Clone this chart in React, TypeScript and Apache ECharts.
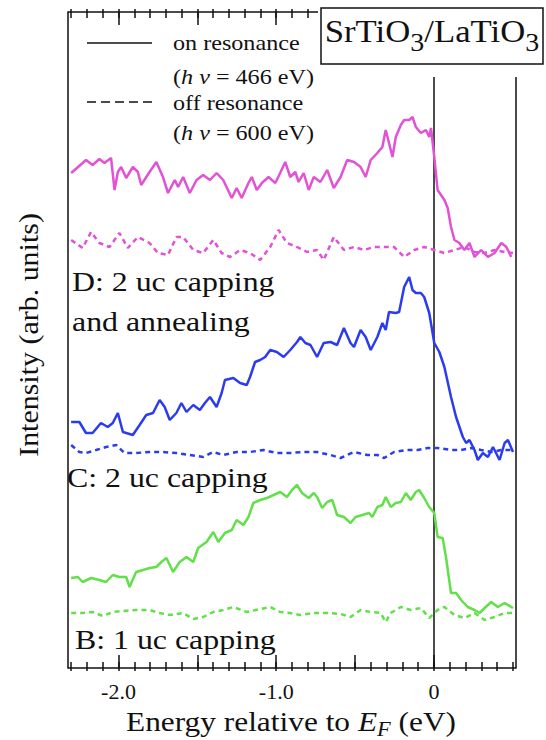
import React, { useEffect, useRef } from "react";
import * as echarts from "echarts";

// Energy window (eV) and intensity scale (arb. units)
const X_MIN = -2.32;
const X_MAX = 0.52;
const Y_MAX = 6.56;

const minorTicks = [
  -2.3, -2.2, -2.1, -2.0, -1.9, -1.8, -1.7, -1.6, -1.5, -1.4, -1.3, -1.2, -1.1, -1.0,
  -0.9, -0.8, -0.7, -0.6, -0.5, -0.4, -0.3, -0.2, -0.1, 0, 0.1, 0.2, 0.3, 0.4, 0.5,
];
const majorTicks = [-2.0, -1.5, -1.0, -0.5, 0];
const labeledTicks = [-2.0, -1.0, 0];

// D: 2 uc capping and annealing
const dOnResonance: [number, number][] = [
  [-2.30, 4.95], [-2.227, 5.05], [-2.206, 5.08], [-2.164, 5.03], [-2.121, 5.09], [-2.089, 5.05],
  [-2.047, 5.10], [-2.025, 4.78], [-2.004, 4.96], [-1.983, 5.01], [-1.951, 4.90], [-1.909, 5.01],
  [-1.877, 4.96], [-1.856, 4.83], [-1.803, 4.96], [-1.760, 5.06], [-1.718, 4.91], [-1.686, 4.75],
  [-1.643, 4.88], [-1.622, 4.81], [-1.590, 4.91], [-1.548, 4.75], [-1.505, 4.88], [-1.463, 4.93],
  [-1.420, 4.88], [-1.378, 4.95], [-1.336, 4.88], [-1.282, 4.70], [-1.251, 4.80], [-1.219, 4.70],
  [-1.176, 4.85], [-1.155, 4.91], [-1.123, 4.78], [-1.091, 4.85], [-1.049, 4.91], [-1.006, 4.85],
  [-0.975, 4.95], [-0.943, 5.06], [-0.911, 4.91], [-0.879, 4.96], [-0.858, 4.86], [-0.826, 4.95],
  [-0.794, 4.78], [-0.762, 4.91], [-0.720, 4.86], [-0.677, 4.98], [-0.635, 4.80], [-0.592, 4.91],
  [-0.550, 5.08], [-0.507, 5.06], [-0.465, 5.01], [-0.433, 4.91], [-0.401, 5.08], [-0.359, 5.15],
  [-0.327, 5.21], [-0.306, 5.38], [-0.285, 5.25], [-0.263, 5.11], [-0.242, 5.31], [-0.210, 5.43],
  [-0.189, 5.48], [-0.157, 5.48], [-0.136, 5.51], [-0.115, 5.41], [-0.083, 5.35], [-0.051, 5.38],
  [-0.030, 5.31], [-0.019, 5.40], [0.002, 5.11], [0.023, 4.78], [0.066, 4.68], [0.087, 4.60],
  [0.108, 4.41], [0.130, 4.28], [0.161, 4.25], [0.193, 4.18], [0.225, 4.25], [0.257, 4.11],
  [0.299, 4.18], [0.342, 4.11], [0.384, 4.15], [0.427, 4.25], [0.459, 4.21], [0.490, 4.11],
];
const dOffResonance: [number, number][] = [
  [-2.30, 4.28], [-2.227, 4.20], [-2.174, 4.36], [-2.121, 4.25], [-2.057, 4.21], [-1.994, 4.35],
  [-1.941, 4.20], [-1.877, 4.31], [-1.803, 4.25], [-1.750, 4.15], [-1.686, 4.13], [-1.633, 4.31],
  [-1.590, 4.31], [-1.526, 4.18], [-1.463, 4.15], [-1.399, 4.28], [-1.346, 4.15], [-1.293, 4.11],
  [-1.229, 4.18], [-1.166, 4.15], [-1.102, 4.08], [-1.038, 4.21], [-0.985, 4.38], [-0.932, 4.25],
  [-0.868, 4.21], [-0.805, 4.16], [-0.741, 4.18], [-0.699, 4.08], [-0.635, 4.31], [-0.571, 4.18],
  [-0.507, 4.21], [-0.444, 4.18], [-0.380, 4.21], [-0.316, 4.21], [-0.253, 4.21], [-0.189, 4.11],
  [-0.125, 4.18], [-0.062, 4.21], [0.002, 4.18], [0.066, 4.15], [0.130, 4.18], [0.193, 4.21],
  [0.257, 4.16], [0.321, 4.15], [0.384, 4.18], [0.448, 4.16], [0.501, 4.15],
];

// C: 2 uc capping
const cOnResonance: [number, number][] = [
  [-2.30, 2.46], [-2.248, 2.46], [-2.206, 2.35], [-2.164, 2.35], [-2.111, 2.45], [-2.068, 2.41],
  [-2.036, 2.45], [-2.004, 2.55], [-1.972, 2.36], [-1.909, 2.33], [-1.866, 2.43], [-1.824, 2.53],
  [-1.781, 2.55], [-1.739, 2.68], [-1.707, 2.61], [-1.675, 2.48], [-1.633, 2.55], [-1.601, 2.65],
  [-1.569, 2.56], [-1.526, 2.63], [-1.484, 2.58], [-1.452, 2.65], [-1.420, 2.71], [-1.378, 2.61],
  [-1.346, 2.75], [-1.325, 2.88], [-1.272, 2.90], [-1.229, 2.85], [-1.187, 2.83], [-1.166, 2.91],
  [-1.134, 3.06], [-1.102, 3.08], [-1.070, 3.11], [-1.038, 3.18], [-0.996, 3.16], [-0.953, 3.11],
  [-0.911, 3.18], [-0.868, 3.26], [-0.847, 3.31], [-0.815, 3.25], [-0.783, 3.23], [-0.741, 3.11],
  [-0.699, 3.25], [-0.656, 3.26], [-0.614, 3.23], [-0.571, 3.40], [-0.529, 3.25], [-0.507, 3.21],
  [-0.465, 3.38], [-0.433, 3.31], [-0.401, 3.18], [-0.359, 3.31], [-0.327, 3.45], [-0.306, 3.38],
  [-0.285, 3.56], [-0.242, 3.55], [-0.221, 3.56], [-0.189, 3.81], [-0.157, 3.91], [-0.136, 3.78],
  [-0.115, 3.75], [-0.083, 3.75], [-0.062, 3.71], [-0.030, 3.55], [0.002, 3.25], [0.034, 3.16],
  [0.066, 3.01], [0.108, 2.71], [0.140, 2.51], [0.183, 2.31], [0.204, 2.25], [0.225, 2.28],
  [0.257, 2.18], [0.278, 2.08], [0.310, 2.15], [0.342, 2.11], [0.374, 2.21], [0.416, 2.08],
  [0.448, 2.25], [0.469, 2.28], [0.501, 2.16],
];
const cOffResonance: [number, number][] = [
  [-2.30, 2.23], [-2.248, 2.16], [-2.206, 2.15], [-2.142, 2.18], [-2.079, 2.21], [-2.015, 2.23],
  [-1.962, 2.15], [-1.888, 2.15], [-1.803, 2.16], [-1.718, 2.16], [-1.633, 2.15], [-1.548, 2.13],
  [-1.463, 2.11], [-1.399, 2.16], [-1.336, 2.13], [-1.251, 2.16], [-1.166, 2.16], [-1.081, 2.18],
  [-0.996, 2.15], [-0.911, 2.15], [-0.826, 2.16], [-0.741, 2.16], [-0.656, 2.13], [-0.592, 2.10],
  [-0.507, 2.16], [-0.422, 2.13], [-0.359, 2.13], [-0.316, 2.10], [-0.253, 2.16], [-0.168, 2.18],
  [-0.104, 2.18], [-0.041, 2.20], [0.023, 2.20], [0.108, 2.18], [0.172, 2.18], [0.236, 2.20],
  [0.299, 2.18], [0.363, 2.16], [0.427, 2.18], [0.501, 2.18],
];

// B: 1 uc capping
const bOnResonance: [number, number][] = [
  [-2.30, 0.90], [-2.258, 0.91], [-2.227, 0.86], [-2.174, 0.90], [-2.121, 0.88], [-2.079, 0.86],
  [-2.036, 0.93], [-1.994, 0.91], [-1.951, 0.91], [-1.930, 0.81], [-1.888, 0.96], [-1.845, 0.98],
  [-1.803, 1.00], [-1.760, 1.01], [-1.728, 1.06], [-1.696, 1.10], [-1.654, 0.96], [-1.612, 1.06],
  [-1.569, 1.11], [-1.526, 1.06], [-1.495, 1.20], [-1.442, 1.26], [-1.399, 1.36], [-1.367, 1.26],
  [-1.325, 1.35], [-1.282, 1.38], [-1.251, 1.48], [-1.208, 1.43], [-1.176, 1.51], [-1.145, 1.65],
  [-1.102, 1.68], [-1.059, 1.70], [-1.017, 1.73], [-0.975, 1.76], [-0.932, 1.71], [-0.900, 1.78],
  [-0.868, 1.83], [-0.837, 1.75], [-0.794, 1.70], [-0.762, 1.75], [-0.741, 1.71], [-0.709, 1.60],
  [-0.677, 1.66], [-0.645, 1.68], [-0.614, 1.53], [-0.571, 1.51], [-0.529, 1.45], [-0.497, 1.51],
  [-0.454, 1.53], [-0.412, 1.55], [-0.391, 1.51], [-0.359, 1.61], [-0.327, 1.63], [-0.306, 1.71],
  [-0.274, 1.61], [-0.242, 1.65], [-0.210, 1.66], [-0.178, 1.75], [-0.147, 1.68], [-0.115, 1.76],
  [-0.094, 1.78], [-0.062, 1.70], [-0.030, 1.61], [0.002, 1.55], [0.023, 1.31], [0.055, 1.30],
  [0.076, 1.11], [0.108, 0.75], [0.140, 0.75], [0.172, 0.68], [0.214, 0.61], [0.257, 0.58],
  [0.289, 0.55], [0.321, 0.60], [0.363, 0.66], [0.405, 0.61], [0.448, 0.65], [0.501, 0.60],
];
const bOffResonance: [number, number][] = [
  [-2.30, 0.55], [-2.227, 0.55], [-2.164, 0.56], [-2.100, 0.52], [-2.036, 0.56], [-1.972, 0.57],
  [-1.888, 0.58], [-1.803, 0.58], [-1.739, 0.55], [-1.675, 0.53], [-1.590, 0.55], [-1.526, 0.49],
  [-1.463, 0.51], [-1.399, 0.56], [-1.336, 0.58], [-1.272, 0.61], [-1.187, 0.56], [-1.102, 0.59],
  [-1.038, 0.61], [-0.975, 0.56], [-0.911, 0.55], [-0.847, 0.53], [-0.762, 0.55], [-0.677, 0.55],
  [-0.592, 0.54], [-0.529, 0.51], [-0.465, 0.58], [-0.401, 0.56], [-0.338, 0.55], [-0.306, 0.46],
  [-0.274, 0.55], [-0.210, 0.61], [-0.147, 0.58], [-0.083, 0.60], [-0.030, 0.50], [0.023, 0.58],
  [0.066, 0.61], [0.130, 0.53], [0.193, 0.50], [0.257, 0.55], [0.321, 0.48], [0.384, 0.51],
  [0.448, 0.55], [0.501, 0.55],
];

const D_COLOR = "#e252d4";
const C_COLOR = "#2b3cf0";
const B_COLOR = "#62e04a";

const FONT = "Liberation Serif";
const INK = "#111";

function tickAxis(
  position: "top" | "bottom",
  values: number[],
  length: number,
  inside: boolean,
  labels?: number[]
) {
  return {
    type: "value",
    position,
    min: X_MIN,
    max: X_MAX,
    axisLine: { show: false },
    splitLine: { show: false },
    axisTick: {
      show: true,
      inside,
      length,
      customValues: values,
      lineStyle: { color: INK, width: 1.5 },
    },
    axisLabel: labels
      ? {
          show: true,
          customValues: labels,
          formatter: (v: number) => (v === 0 ? "0" : v.toFixed(1)),
          fontSize: 22,
          fontFamily: FONT,
          color: INK,
          margin: 12,
        }
      : { show: false },
  };
}

function spectrum(data: [number, number][], color: string, dashed: boolean) {
  return {
    type: "line",
    data,
    showSymbol: false,
    symbol: "none",
    lineStyle: { color, width: 2.5, type: dashed ? [5, 4] : "solid" },
    z: 3,
  };
}

function txt(
  x: number,
  y: number,
  text: string,
  rich: Record<string, any>,
  opts: { align?: string; scaleX?: number; rotation?: number } = {}
) {
  const align = opts.align || "left";
  return {
    type: "text",
    x,
    y,
    z: 110,
    rotation: opts.rotation || 0,
    scaleX: opts.scaleX || 1,
    style: {
      text,
      rich,
      fill: INK,
      fontSize: 20,
      fontFamily: FONT,
      align,
      textAlign: align,
      verticalAlign: "middle",
      textVerticalAlign: "middle",
    },
  };
}

const plain = (size: number) => ({ fontSize: size, fontFamily: FONT, fill: INK });
const ital = (size: number) => ({ fontSize: size, fontFamily: FONT, fontStyle: "italic", fill: INK });

export default function App() {
  const ref = useRef<HTMLDivElement>(null);

  useEffect(() => {
    if (!ref.current) return;
    const chart = echarts.init(ref.current, undefined, { renderer: "svg" });

    const legendRich = { n: plain(21), i: ital(21) };
    const panelRich = { n: plain(27) };
    const titleRich = {
      n: plain(31),
      s: { ...plain(25), padding: [22, 0, 0, 0] },
    };
    const xTitleRich = {
      n: plain(28),
      i: ital(28),
      s: { ...ital(20), padding: [14, 0, 0, 0] },
    };

    chart.setOption({
      animation: false,
      backgroundColor: "#fff",
      grid: {
        left: 68,
        right: 30,
        top: 12,
        bottom: 72,
        show: true,
        borderColor: INK,
        borderWidth: 1.5,
        backgroundColor: "transparent",
      },
      xAxis: [
        tickAxis("bottom", minorTicks, 6, true),
        tickAxis("bottom", majorTicks, 13, true, labeledTicks),
        tickAxis("bottom", minorTicks, 3, false),
        tickAxis("top", minorTicks, 6, true),
        tickAxis("top", majorTicks, 13, true),
        tickAxis("top", minorTicks, 3, false),
      ],
      yAxis: { type: "value", min: 0, max: Y_MAX, show: false },
      series: [
        {
          ...spectrum(dOnResonance, D_COLOR, false),
          markLine: {
            silent: true,
            symbol: ["none", "none"],
            label: { show: false },
            lineStyle: { color: INK, width: 1.5, type: "solid" },
            data: [{ xAxis: 0 }],
            z: 2,
          },
        },
        spectrum(dOffResonance, D_COLOR, true),
        spectrum(cOnResonance, C_COLOR, false),
        spectrum(cOffResonance, C_COLOR, true),
        spectrum(bOnResonance, B_COLOR, false),
        spectrum(bOffResonance, B_COLOR, true),
      ],
      graphic: [
        // white field behind the sample title
        {
          type: "rect",
          z: 100,
          shape: { x: 318, y: 0, width: 228, height: 77 },
          style: { fill: "#fff" },
        },
        {
          type: "rect",
          z: 101,
          shape: { x: 321, y: 8, width: 222, height: 56 },
          style: { fill: "#fff", stroke: INK, lineWidth: 1.5 },
        },
        txt(432, 31.5, "{n|SrTiO}{s|3}{n|/LaTiO}{s|3}", titleRich, { align: "center", scaleX: 1.12 }),

        // legend
        {
          type: "line",
          z: 110,
          shape: { x1: 87, y1: 43, x2: 152, y2: 43 },
          style: { stroke: INK, lineWidth: 1.5 },
        },
        {
          type: "line",
          z: 110,
          shape: { x1: 87, y1: 102, x2: 152, y2: 102 },
          style: { stroke: INK, lineWidth: 1.5, lineDash: [9, 5] },
        },
        txt(173, 43, "{n|on resonance}", legendRich, { scaleX: 1.15 }),
        txt(173, 77, "{n|(}{i|h ν}{n| = 466 eV)}", legendRich, { scaleX: 1.15 }),
        txt(173, 103, "{n|off resonance}", legendRich, { scaleX: 1.15 }),
        txt(173, 133, "{n|(}{i|h ν}{n| = 600 eV)}", legendRich, { scaleX: 1.15 }),

        // sample labels
        txt(72, 282, "{n|D: 2 uc capping}", panelRich, { scaleX: 1.18 }),
        txt(72, 322, "{n|and annealing}", panelRich, { scaleX: 1.18 }),
        txt(67, 478, "{n|C: 2 uc capping}", panelRich, { scaleX: 1.18 }),
        txt(75, 640, "{n|B: 1 uc capping}", panelRich, { scaleX: 1.18 }),

        // axis titles
        txt(291, 722, "{n|Energy relative to }{i|E}{s|F}{n| (eV)}", xTitleRich, {
          align: "center",
          scaleX: 1.12,
        }),
        txt(28, 335, "{n|Intensity (arb. units)}", { n: plain(28) }, {
          align: "center",
          rotation: Math.PI / 2,
          scaleX: 1.07,
        }),
      ],
    });

    return () => chart.dispose();
  }, []);

  return (
    <div
      ref={ref}
      style={{ position: "absolute", left: 0, top: 0, width: 546, height: 740, background: "#fff" }}
    />
  );
}
